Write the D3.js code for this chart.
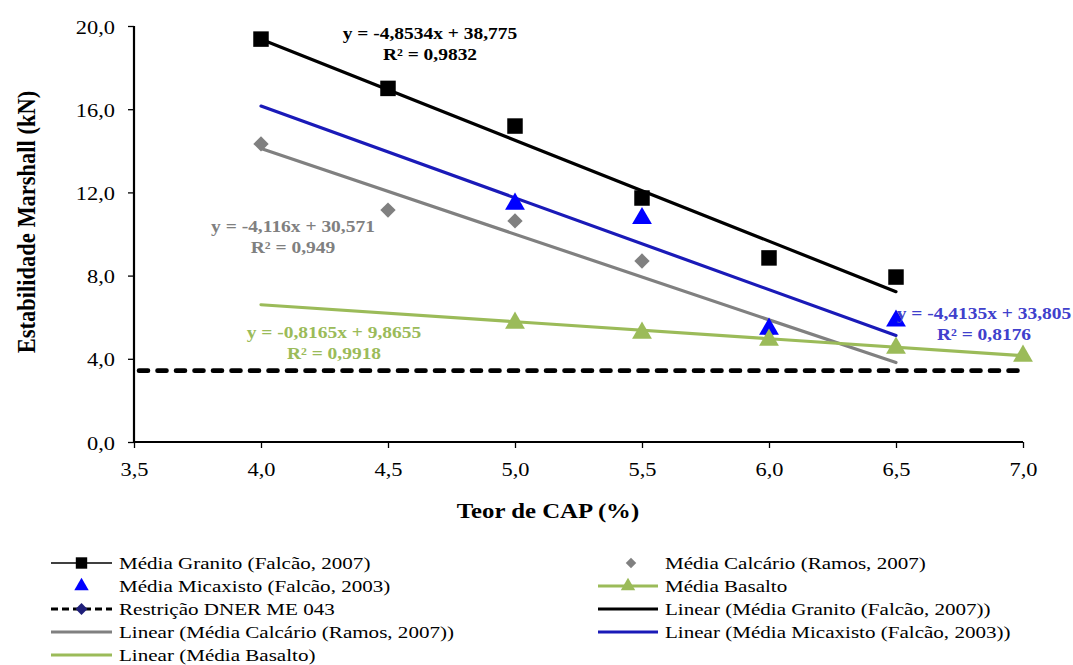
<!DOCTYPE html>
<html><head><meta charset="utf-8">
<script src="https://cdn.jsdelivr.net/npm/d3@7"></script>
<style>body{margin:0;background:#fff}svg{display:block}text{font-family:"Liberation Serif","Times New Roman",serif}</style>
</head><body><svg id="c" width="1073" height="665"></svg>
<script>
// ---- data ----
const xTicks = [3.5, 4.0, 4.5, 5.0, 5.5, 6.0, 6.5, 7.0];
const yTicks = [0, 4, 8, 12, 16, 20];
const granitoX = [4.0, 4.5, 5.0, 5.5, 6.0, 6.5];
const granitoY = [19.37, 17.0, 15.19, 11.73, 8.85, 7.93];
const calcarioX = [4.0, 4.5, 5.0, 5.5, 6.0];
const calcarioY = [14.33, 11.15, 10.63, 8.7, 5.3];
const micaxistoX = [5.0, 5.5, 6.0, 6.5];
const micaxistoY = [11.49, 10.8, 5.48, 5.87];
const basaltoX = [5.0, 5.5, 6.0, 6.5, 7.0];
const basaltoY = [5.77, 5.29, 4.95, 4.57, 4.18];
const restricaoX = [3.5, 7.0];
const restricaoY = [3.43, 3.43];
// trendlines: [slope, intercept, xStart, xEnd]
const trendGranito = [-4.8534, 38.775, 4.0, 6.5];
const trendCalcario = [-4.116, 30.571, 4.0, 6.5];
const trendMicaxisto = [-4.4135, 33.805, 4.0, 6.5];
const trendBasalto = [-0.8165, 9.8655, 4.0, 7.0];
const eqTexts = [
  ["y = -4,8534x + 38,775", "R² = 0,9832"],
  ["y = -4,116x + 30,571", "R² = 0,949"],
  ["y = -4,4135x + 33,805", "R² = 0,8176"],
  ["y = -0,8165x + 9,8655", "R² = 0,9918"]
];
const legendLabels = [
  "Média Granito (Falcão, 2007)", "Média Calcário (Ramos, 2007)",
  "Média Micaxisto (Falcão, 2003)", "Média Basalto",
  "Restrição DNER ME 043", "Linear (Média Granito (Falcão, 2007))",
  "Linear (Média Calcário (Ramos, 2007))", "Linear (Média Micaxisto (Falcão, 2003))",
  "Linear (Média Basalto)"
];

// ---- styles ----
const C = {black:"#000", gray:"#808080", blue:"#0000ff", blueLine:"#1a1ab8", green:"#9bbb59", blueText:"#4040cc", navy:"#1f1f7a"};
const SX = 1.18; // horizontal glyph stretch of the original picture

const svg = d3.select("#c");
const x = d3.scaleLinear().domain([3.5, 7]).range([134, 1023]);
const y = d3.scaleLinear().domain([0, 20]).range([442, 26]);
const fmt = v => d3.format(".1f")(v).replace(".", ",");

function stext(parent, px, py, size, opts) {
  opts = opts || {};
  const t = parent.append("text")
    .attr("transform", `translate(${px},${py}) scale(${opts.sx || SX},1)`)
    .attr("font-size", size)
    .attr("text-anchor", opts.anchor || "start")
    .attr("fill", opts.fill || "#000");
  if (opts.bold) t.attr("font-weight", "bold");
  return t;
}

// axes
const xa = svg.append("g").attr("transform", "translate(0,442)")
  .call(d3.axisBottom(x).tickValues(xTicks).tickFormat(fmt).tickSize(6).tickPadding(14));
const ya = svg.append("g").attr("transform", "translate(134,0)")
  .call(d3.axisLeft(y).tickValues(yTicks).tickFormat(fmt).tickSize(6).tickPadding(6));
[xa, ya].forEach(a => {
  a.select(".domain").attr("stroke", "#000").attr("stroke-width", 2.2);
  a.selectAll(".tick line").attr("stroke", "#000").attr("stroke-width", 1.3);
  a.selectAll("text").attr("font-size", 19).attr("fill", "#000").style("font-family", '"Liberation Serif",serif');
});
xa.selectAll(".tick text").attr("y", 0).attr("dy", null).attr("transform", `translate(0,34) scale(${SX},1)`);
ya.selectAll(".tick text").attr("x", 0).attr("dy", null).attr("transform", `translate(-19,7) scale(${SX},1)`);
ya.select(".domain").attr("d", "M0,26V442");
xa.select(".domain").attr("d", "M0,0H" + (1023 - 134)).attr("transform", "translate(134,0)");

stext(svg, 548, 518, 21, {anchor: "middle", bold: true}).text("Teor de CAP (%)");
svg.append("text").attr("transform", "translate(35,222) rotate(-90) scale(1,1.15)").attr("text-anchor", "middle")
  .attr("font-size", 22.5).attr("font-weight", "bold").text("Estabilidade Marshall (kN)");

// restriction dashed line
svg.append("line").attr("x1", x(restricaoX[0]) + 5).attr("x2", x(restricaoX[1]))
  .attr("y1", y(restricaoY[0])).attr("y2", y(restricaoY[1]))
  .attr("stroke", "#000").attr("stroke-width", 4.6).attr("stroke-dasharray", "9,9.5")
  .attr("stroke-linecap", "round");

// trendlines
function trend(t, color) {
  svg.append("line").attr("x1", x(t[2])).attr("y1", y(t[0] * t[2] + t[1]))
    .attr("x2", x(t[3])).attr("y2", y(t[0] * t[3] + t[1]))
    .attr("stroke", color).attr("stroke-width", 3.2).attr("stroke-linecap", "round");
}
trend(trendGranito, C.black);
trend(trendCalcario, C.gray);
trend(trendMicaxisto, C.blueLine);
trend(trendBasalto, C.green);

// markers
const sq = d3.symbol().type(d3.symbolSquare).size(240);
const dm = d3.symbol().type(d3.symbolDiamond2).size(150);
const tr = d3.symbol().type(d3.symbolTriangle).size(170);
function pts(xs, ys, sym, color, dy) {
  svg.append("g").selectAll("path").data(xs).join("path")
    .attr("d", sym)
    .attr("transform", (d, i) => `translate(${x(d)},${y(ys[i]) + (dy||0)})`)
    .attr("fill", color);
}
pts(granitoX, granitoY, sq, C.black);
pts(calcarioX, calcarioY, dm, C.gray);
pts(micaxistoX, micaxistoY, tr, C.blue, 1);
pts(basaltoX, basaltoY, tr, C.green, 1);

// equation labels
function eq(lines, cx, cy, color) {
  lines.forEach((l, i) => stext(svg, cx, cy + i * 21, 16.5, {anchor: "middle", bold: true, fill: color}).text(l));
}
eq(eqTexts[0], 430, 39, C.black);
eq(eqTexts[1], 293, 232, C.gray);
eq(eqTexts[2], 984, 319, C.blueText);
eq(eqTexts[3], 334, 338, C.green);

// legend
const lg = svg.append("g");
const rowY = [563, 586, 609, 632, 655];
const colX = [[51, 112, 119], [598, 658, 665]];
legendLabels.forEach((lab, i) => {
  const r = Math.floor(i / 2), c = i % 2;
  const [x0, x1, tx] = colX[c];
  const yy = rowY[r], cx = (x0 + x1) / 2;
  const g = lg.append("g");
  const line = (color, w, dash) => g.append("line").attr("x1", x0).attr("x2", x1).attr("y1", yy).attr("y2", yy)
    .attr("stroke", color).attr("stroke-width", w).attr("stroke-dasharray", dash || null);
  if (i === 0) { line("#000", 1.3); g.append("path").attr("d", d3.symbol().type(d3.symbolSquare).size(130)).attr("transform", `translate(${cx},${yy})`).attr("fill", "#000"); }
  if (i === 1) { g.append("path").attr("d", d3.symbol().type(d3.symbolDiamond2).size(70)).attr("transform", `translate(${cx + 3},${yy})`).attr("fill", C.gray); }
  if (i === 2) { g.append("path").attr("d", d3.symbol().type(d3.symbolTriangle).size(90)).attr("transform", `translate(${cx},${yy})`).attr("fill", C.blue); }
  if (i === 3) { line(C.green, 3); g.append("path").attr("d", d3.symbol().type(d3.symbolTriangle).size(90)).attr("transform", `translate(${cx},${yy})`).attr("fill", C.green); }
  if (i === 4) { line("#000", 3, "7,4"); g.append("path").attr("d", d3.symbol().type(d3.symbolDiamond2).size(90)).attr("transform", `translate(${cx},${yy})`).attr("fill", C.navy); }
  if (i === 5) line("#000", 3);
  if (i === 6) line(C.gray, 3);
  if (i === 7) line(C.blueLine, 3);
  if (i === 8) line(C.green, 3);
  stext(g, tx, yy + 5.5, 17, {sx: 1.24}).text(lab);
});
</script></body></html>
